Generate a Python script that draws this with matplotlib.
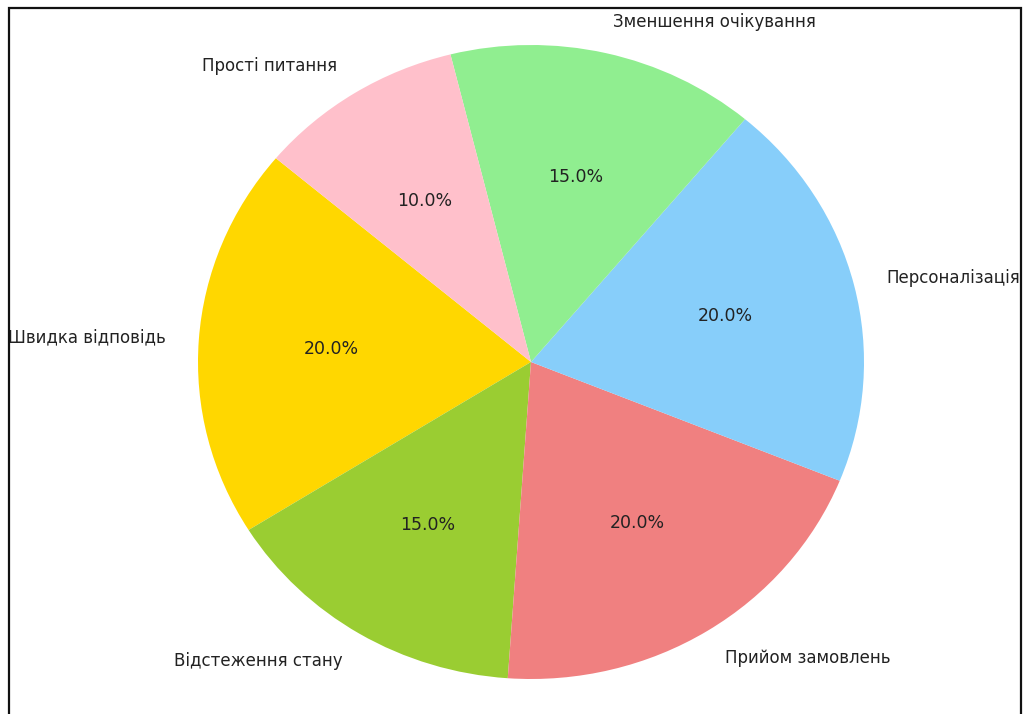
import matplotlib

matplotlib.use("Agg")
import matplotlib.pyplot as plt
from matplotlib.patches import Rectangle

labels = [
    "Швидка відповідь",
    "Відстеження стану",
    "Прийом замовлень",
    "Персоналізація",
    "Зменшення очікування",
    "Прості питання",
]
shares = [20, 15, 20, 20, 15, 10]
colors = ["gold", "yellowgreen", "lightcoral", "lightskyblue", "lightgreen", "pink"]

W, H = 1023, 714
fig = plt.figure(figsize=(W / 100, H / 100), dpi=100)

# pie box in pixels: centre (531, 362), radii 333 x 317 (the source was stretched)
cx, cy, rx, ry = 531, 362, 333, 317
ax = fig.add_axes([(cx - rx) / W, (H - cy - ry) / H, 2 * rx / W, 2 * ry / H])
_, texts, autotexts = ax.pie(
    shares,
    labels=labels,
    colors=colors,
    autopct="%1.1f%%",
    startangle=140,
    textprops={"fontsize": 12, "color": "#222222"},
)
for t in autotexts:
    t.set_fontsize(12.5)
ax.set_aspect("auto")
ax.set_xlim(-1, 1)
ax.set_ylim(-1, 1)

# black frame from the screenshot
fig.patches.append(
    Rectangle((9 / W, -0.05), 1012 / W, 1 - 8 / H + 0.05, transform=fig.transFigure,
              fill=False, edgecolor="#111111", linewidth=1.6)
)

fig.savefig("out.png", dpi=100)
